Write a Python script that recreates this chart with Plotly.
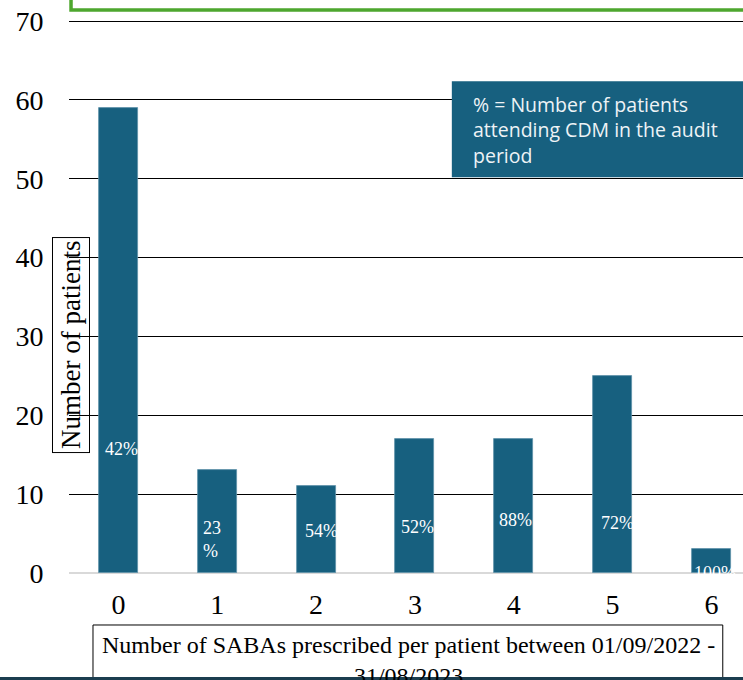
import plotly.graph_objects as go

# ---- data ----
categories = [0, 1, 2, 3, 4, 5, 6]
patients = [59, 13, 11, 17, 17, 25, 3]
pct_labels = ["42%", "23<br>%", "54%", "52%", "88%", "72%", "100%"]
# label heights (data units) and horizontal offsets (px) as placed in the original
pct_label_y = [15.7, 4.2, 5.3, 5.8, 6.7, 6.3, 0.0]
pct_label_dx = [4, 3, 6, 4, 3, 6, 0]
y_ticks = [0, 10, 20, 30, 40, 50, 60, 70]

BAR = "#17607f"
SERIF = "Liberation Serif"
BAR_W = 0.395

fig = go.Figure()
fig.add_trace(go.Bar(
    x=categories, y=patients, width=BAR_W,
    marker=dict(color=BAR, line=dict(color="#5d90a8", width=0.8)),
    hoverinfo="skip",
))

for c, lab, ly, dx in zip(categories, pct_labels, pct_label_y, pct_label_dx):
    fig.add_annotation(
        x=c - BAR_W / 2, y=ly, xref="x", yref="y", text=lab, showarrow=False,
        xanchor="left", yanchor="middle", xshift=dx, align="left",
        font=dict(family=SERIF, size=18, color="white"),
    )

# top gridline (plotly omits the one on the domain edge)
fig.add_shape(type="line", xref="paper", yref="y", x0=0, x1=1,
              y0=y_ticks[-1] - 0.06, y1=y_ticks[-1] - 0.06,
              line=dict(color="black", width=1.2))

# legend-like note box
fig.add_shape(type="rect", xref="paper", yref="paper",
              x0=0.568, x1=1.05, y0=0.717, y1=0.891,
              fillcolor=BAR, line=dict(width=0), layer="above")
fig.add_annotation(
    xref="paper", yref="paper", x=0.597, y=0.876, xanchor="left", yanchor="top",
    text="% = Number of patients<br>attending CDM in the audit<br>period",
    align="left", showarrow=False,
    font=dict(family="Open Sans", size=19.5, color="#eef3f6"),
)

# green frame at top (only its bottom edge and a bit of its left edge are visible)
fig.add_shape(type="rect", xref="paper", yref="paper",
              x0=0.003, x1=1.3, y0=1.0198, y1=1.2,
              line=dict(color="#4ea72e", width=3.5), fillcolor="rgba(0,0,0,0)")

# y-axis title in a box
fig.add_annotation(
    xref="paper", yref="paper", x=0.003, y=0.413, text="Number of patients",
    textangle=-90, showarrow=False, xanchor="center", yanchor="middle",
    font=dict(family=SERIF, size=27, color="black"),
    bordercolor="black", borderwidth=1, borderpad=3,
)

# x-axis title box
fig.add_shape(type="rect", xref="paper", yref="paper",
              x0=0.0356, x1=0.970, y0=-0.25, y1=-0.0942,
              line=dict(color="black", width=1), fillcolor="white")
fig.add_annotation(
    xref="paper", yref="paper", x=0.503, y=-0.103, xanchor="center", yanchor="top",
    text="Number of SABAs prescribed per patient between 01/09/2022 -<br>31/08/2023",
    showarrow=False, align="center",
    font=dict(family=SERIF, size=24, color="black"),
)
# dark strip at the very bottom
fig.add_shape(type="rect", xref="paper", yref="paper",
              x0=-0.2, x1=1.2, y0=-0.25, y1=-0.1885,
              fillcolor="#1b3d4f", line=dict(width=0), layer="above")

fig.update_layout(
    width=743, height=680,
    margin=dict(l=69, r=0, t=21, b=107),
    paper_bgcolor="white", plot_bgcolor="white",
    showlegend=False, bargap=0,
)
fig.update_xaxes(
    range=[-0.5, 6.32], tickvals=categories, ticktext=[str(c) for c in categories],
    showgrid=False, zeroline=False, showline=False,
    ticks="outside", ticklen=6, tickcolor="rgba(0,0,0,0)",
    tickfont=dict(family=SERIF, size=28, color="black"),
    ticklabeloverflow="allow",
)
fig.update_yaxes(
    range=[0, 70], tickvals=y_ticks,
    showgrid=True, gridcolor="black", gridwidth=1,
    zeroline=True, zerolinecolor="#d9d9d9", zerolinewidth=2,
    showline=False,
    ticks="outside", ticklen=19, tickcolor="rgba(0,0,0,0)",
    tickfont=dict(family=SERIF, size=28, color="black"),
    ticklabeloverflow="allow",
)

# remove the browser's default page margin so the figure fills the window exactly
fig.write_html("out.html", config={"displayModeBar": False},
               post_script="document.body.style.margin='0';document.body.style.overflow='hidden';")
